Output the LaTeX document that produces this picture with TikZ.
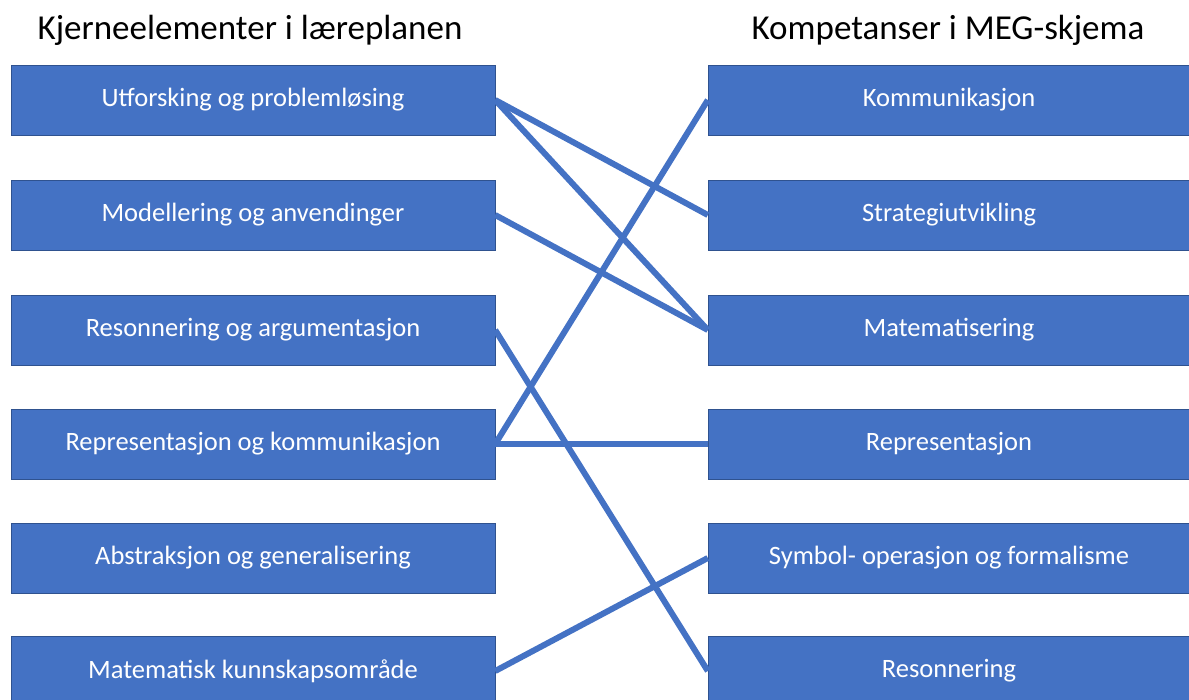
\documentclass[tikz,border=0pt]{standalone}
\usepackage{fontspec}
\setmainfont{Carlito}
\usepackage{tikz}
\usetikzlibrary{positioning,calc}
\definecolor{boxblue}{HTML}{4472C4}
\definecolor{boxedge}{HTML}{2F528F}

\tikzset{
  box/.style={draw=boxedge, fill=boxblue, thin, text=white, inner sep=0pt,
    minimum height=70pt, font=\fontsize{26.5}{30}\selectfont},
  lbox/.style={box, minimum width=484pt},
  rbox/.style={box, minimum width=482pt},
  head/.style={font=\fontsize{35}{40}\selectfont},
  link/.style={boxblue, line width=6pt}
}

\begin{document}
\begin{tikzpicture}[x=1pt, y=-1pt]
  \useasboundingbox (0,0) rectangle (1189,700);
  % headings
  \node[head] (lhead) at (250,30) {Kjerneelementer i læreplanen};
  \node[head] (rhead) at (948,30) {Kompetanser i MEG-skjema};
  % left column
  \foreach \y/\n/\t in {100/1/Utforsking og problemløsing,
                        215/2/Modellering og anvendinger,
                        330/3/Resonnering og argumentasjon,
                        444/4/Representasjon og kommunikasjon,
                        558/5/Abstraksjon og generalisering,
                        671/6/Matematisk kunnskapsområde}
  {
    \node[lbox] (l\n) at (253,\y) {\t};
  }
  % right column
  \foreach \y/\n/\t in {100/1/Kommunikasjon,
                        215/2/Strategiutvikling,
                        330/3/Matematisering,
                        444/4/Representasjon,
                        558/5/Symbol- operasjon og formalisme,
                        671/6/Resonnering}
  {
    \node[rbox] (r\n) at (949,\y) {\t};
  }
  % links
  \draw[link] (l1.east) -- (r2.west);
  \draw[link] (l1.east) -- (r3.west);
  \draw[link] (l2.east) -- (r3.west);
  \draw[link] (l3.east) -- (r6.west);
  \draw[link] (l4.east) -- (r1.west);
  \draw[link] (l4.east) -- (r4.west);
  \draw[link] (l6.east) -- (r5.west);
\end{tikzpicture}
\end{document}
